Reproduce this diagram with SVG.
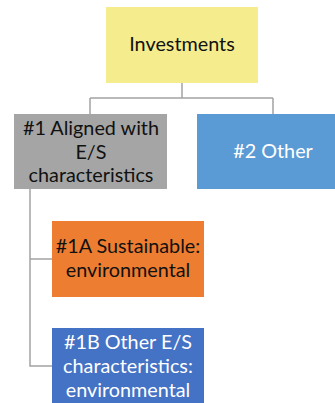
<svg xmlns="http://www.w3.org/2000/svg" width="335" height="403" viewBox="0 0 335 403">
<style>
text{font-family:Lato,"Noto Sans","Liberation Sans",sans-serif;font-size:19.8px;text-anchor:middle}
.dk{fill:#111}
.wt{fill:#fff}
.conn{fill:none;stroke:#a3a3a3;stroke-width:1.5}
</style>
<rect width="335" height="403" fill="#fff"/>
<g id="connectors">
<path class="conn" d="M182 83V98M90 98H273M90 98V114M273 98V114"/>
<path class="conn" d="M30 189V366H52M30 259H52"/>
</g>
<g id="investments">
<rect x="106" y="7" width="152" height="76" fill="#f5ec8e"/>
<text class="dk" x="182" y="51">Investments</text>
</g>
<g id="aligned">
<rect x="14" y="114" width="153" height="75" fill="#a5a5a5"/>
<text class="dk" x="91" y="135">#1 Aligned with</text>
<text class="dk" x="91" y="158.5">E/S</text>
<text class="dk" x="91" y="182">characteristics</text>
</g>
<g id="other">
<rect x="197" y="114" width="138" height="75" fill="#5b9bd5"/>
<text class="wt" x="273" y="158">#2 Other</text>
</g>
<g id="sustainable">
<rect x="52" y="221" width="152" height="76" fill="#ed7d31"/>
<text class="dk" x="128" y="253">#1A Sustainable:</text>
<text class="dk" x="128" y="276.5">environmental</text>
</g>
<g id="otheres">
<rect x="52" y="328" width="152" height="75" fill="#4472c4"/>
<text class="wt" x="128" y="348.5">#1B Other E/S</text>
<text class="wt" x="128" y="372.5">characteristics:</text>
<text class="wt" x="128" y="396.5">environmental</text>
</g>
</svg>
